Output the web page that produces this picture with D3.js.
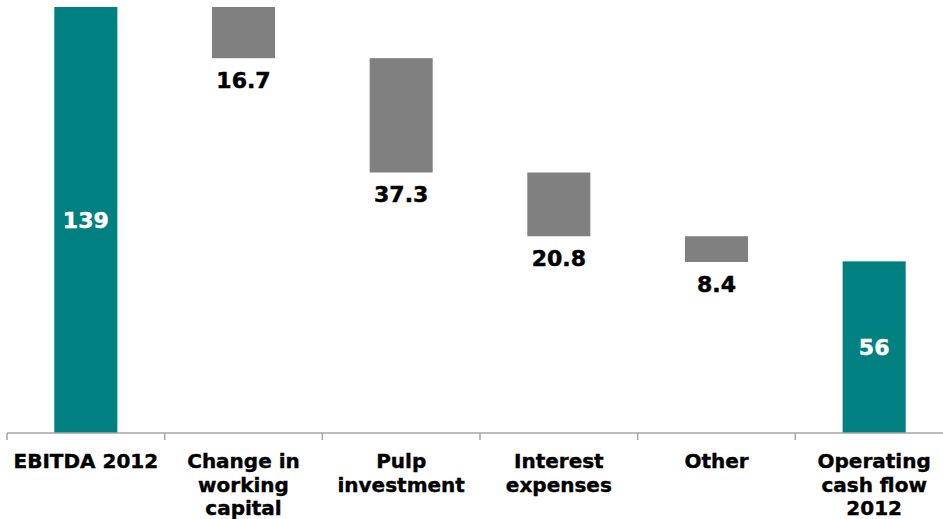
<!DOCTYPE html>
<html>
<head>
<meta charset="utf-8">
<script src="https://cdn.jsdelivr.net/npm/d3@7"></script>
<style>
  html, body { margin: 0; padding: 0; background: #ffffff; }
  svg { display: block; }
  text { font-family: "DejaVu Sans", Verdana, sans-serif; font-weight: bold; }
</style>
</head>
<body>
<svg id="chart" width="943" height="519"></svg>
<script>
// Bridge from EBITDA to operating cash flow, 2012
const categories = [
  "EBITDA 2012",
  "Change in\nworking\ncapital",
  "Pulp\ninvestment",
  "Interest\nexpenses",
  "Other",
  "Operating\ncash flow\n2012"
];
const values = [139, -16.7, -37.3, -20.8, -8.4, 56];
const kinds = ["total", "delta", "delta", "delta", "delta", "total"];

const svg = d3.select("#chart");
const W = 943, H = 519;
const left = 7, right = 953, baseY = 433, topY = 7;

// Build the waterfall segments
let running = 0;
const bars = categories.map((c, i) => {
  let y0, y1;
  if (kinds[i] === "total") {
    y0 = 0; y1 = values[i]; running = values[i];
  } else {
    y0 = running; y1 = running + values[i]; running = y1;
  }
  return { cat: c, kind: kinds[i], value: values[i], lo: Math.min(y0, y1), hi: Math.max(y0, y1) };
});

const x = d3.scaleBand().domain(categories).range([left, right]).padding(0);
const y = d3.scaleLinear().domain([0, 139]).range([baseY, topY]);
const barW = x.bandwidth() * 0.4;

// Bars
svg.append("g").selectAll("rect")
  .data(bars)
  .join("rect")
  .attr("x", d => x(d.cat) + (x.bandwidth() - barW) / 2)
  .attr("y", d => y(d.hi))
  .attr("width", barW)
  .attr("height", d => y(d.lo) - y(d.hi))
  .attr("fill", d => d.kind === "total" ? "#008080" : "#808080");

// Value labels: inside the totals, below the movements
svg.append("g").selectAll("text")
  .data(bars)
  .join("text")
  .attr("x", d => x(d.cat) + x.bandwidth() / 2)
  .attr("y", d => d.kind === "total" ? (y(d.lo) + y(d.hi)) / 2 + 8 : y(d.lo) + 30)
  .attr("text-anchor", "middle")
  .attr("font-size", 22)
  .attr("fill", d => d.kind === "total" ? "#ffffff" : "#000000")
  .attr("stroke", d => d.kind === "total" ? "#ffffff" : "#000000")
  .attr("stroke-width", 0.5)
  .text(d => d3.format(d.kind === "total" ? "d" : ".1f")(Math.abs(d.value)));

// Category axis with ticks on the band boundaries
const axis = svg.append("g").attr("transform", `translate(0,${baseY})`);
axis.append("line")
  .attr("x1", left).attr("x2", W)
  .attr("y1", 0).attr("y2", 0)
  .attr("stroke", "#a6a6a6").attr("stroke-width", 1.5);
axis.selectAll("line.tick")
  .data(categories)
  .join("line")
  .attr("class", "tick")
  .attr("x1", d => x(d)).attr("x2", d => x(d))
  .attr("y1", 0).attr("y2", 7)
  .attr("stroke", "#a6a6a6").attr("stroke-width", 1.5);

const labels = axis.selectAll("text.cat")
  .data(categories)
  .join("text")
  .attr("class", "cat")
  .attr("text-anchor", "middle")
  .attr("font-size", 20)
  .attr("fill", "#000000")
  .attr("stroke", "#000000")
  .attr("stroke-width", 0.4);
labels.each(function(d) {
  const t = d3.select(this);
  d.split("\n").forEach((line, i) => {
    t.append("tspan")
      .attr("x", x(d) + x.bandwidth() / 2)
      .attr("y", 35 + i * 23.5)
      .text(line);
  });
});
</script>
</body>
</html>
